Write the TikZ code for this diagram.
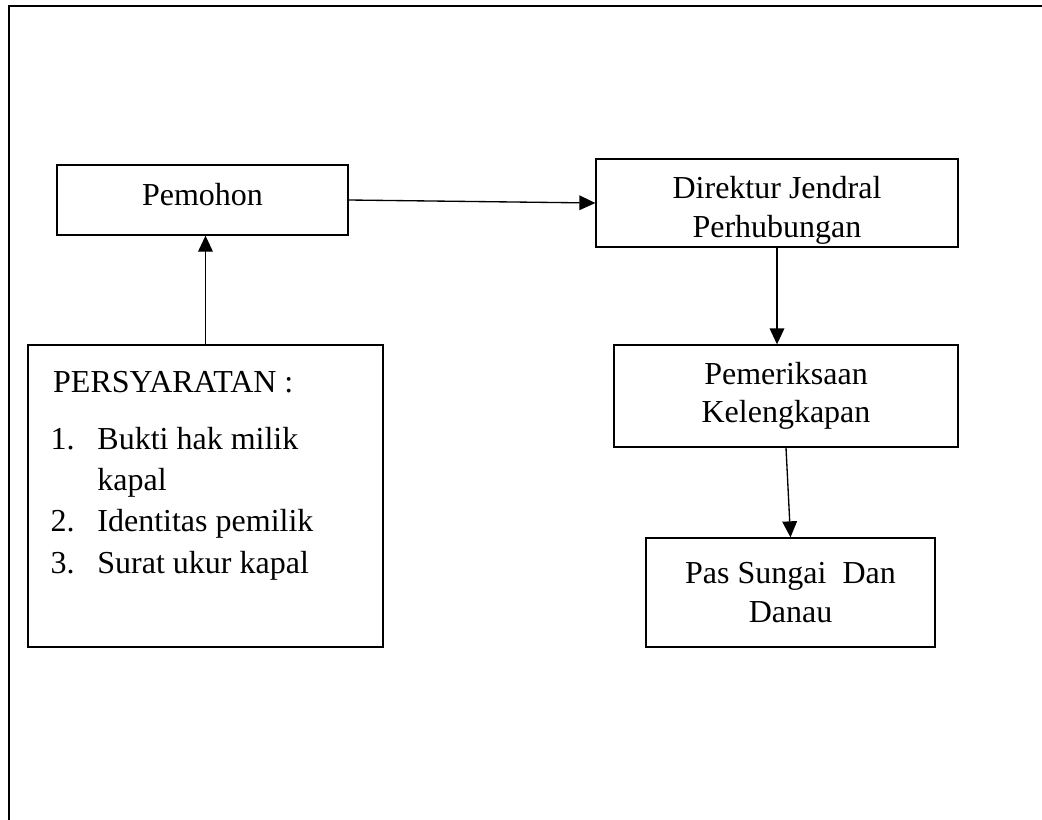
\documentclass[tikz,border=0pt]{standalone}
\usepackage{fontspec}
\setmainfont{Liberation Serif}
\usetikzlibrary{arrows.meta}
\begin{document}
\begin{tikzpicture}
[x=0.375pt,y=-0.375pt,
  boxdecorate/.style={shape=rectangle,draw,line width=0.5pt,inner sep=0pt,align=center,font=\fontsize{12}{14.5}\selectfont},
  textdecorate/.style={inner sep=0pt,align=left,font=\fontsize{12}{15.4}\selectfont},
  linedecorate/.style={-{Triangle[length=6pt,width=5.5pt]},line width=0.5pt},
  framedecorate/.style={line width=0.7pt}]
\useasboundingbox (0,0) rectangle (1042,820);
%% outer frame
\draw[framedecorate] (1042,6) -- (9,6) -- (9,820);
%% boxes
\foreach \nodename/\x/\y/\w/\h/\txt in {pemohon/202.5/200/291/70/{\rule[-4pt]{0pt}{0pt}Pemohon},
  direktur/777/203/362/88/{\rule{0pt}{14pt}Direktur Jendral\\Perhubungan},
  periksa/786/396/344/102/{Pemeriksaan\\Kelengkapan},
  pas/790.5/592.5/289/109/{Pas Sungai\ \ Dan\\Danau},
  syarat/205.5/496/355/302/{}} {
  \node (\nodename) at (\x,\y) [boxdecorate,minimum width=\w*0.375pt,minimum height=\h*0.375pt] {\txt};
}
%% list of requirements
\node (syarattext) at (50,573) [textdecorate,anchor=base west]
  {\hspace*{1pt}PERSYARATAN :\\[6pt]
   \makebox[17.6pt][l]{1.}Bukti hak milik\\
   \hspace*{17.6pt}kapal\\
   \makebox[17.6pt][l]{2.}Identitas pemilik\\
   \makebox[17.6pt][l]{3.}Surat ukur kapal};
%% arrows
\path
\foreach \startnode/\endnode in {syarat.north/syarat.north |- pemohon.south,
  pemohon.east/direktur.west, direktur.south/direktur.south |- periksa.north,
  periksa.south/pas.north} {
  (\startnode) edge[linedecorate] (\endnode)
};
\end{tikzpicture}
\end{document}
